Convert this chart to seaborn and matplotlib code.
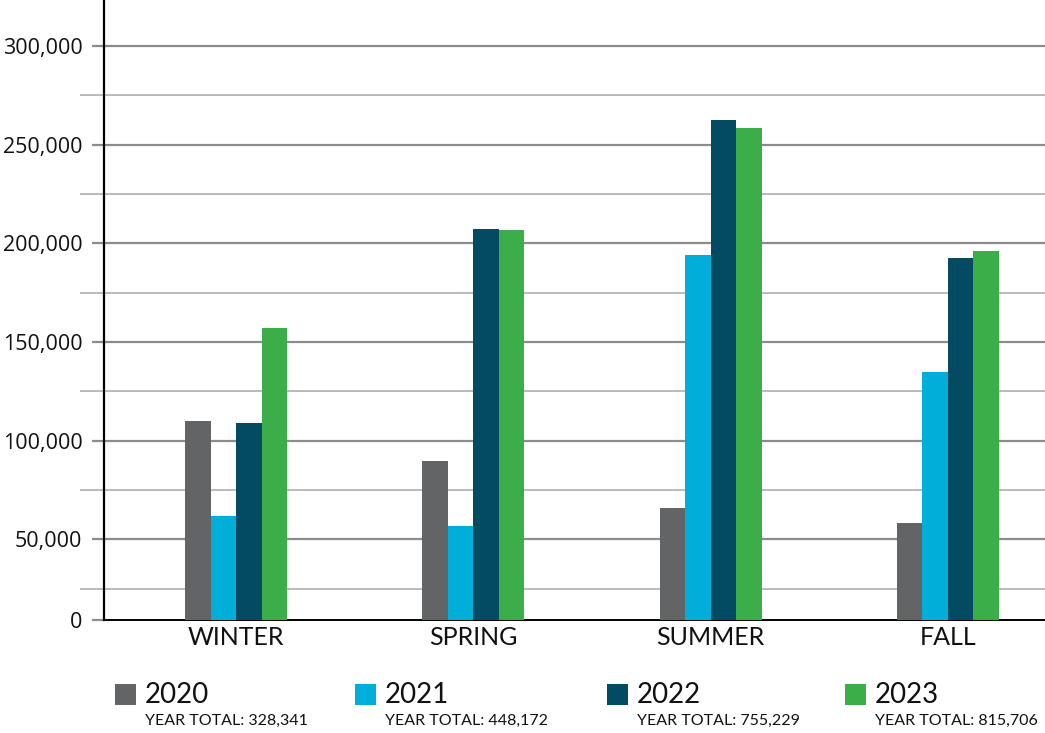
import matplotlib
matplotlib.use("Agg")
import matplotlib.pyplot as plt
from matplotlib.patches import Rectangle
import seaborn as sns
import pandas as pd

seasons = ["WINTER", "SPRING", "SUMMER", "FALL"]
years = ["2020", "2021", "2022", "2023"]
v2020 = [110000, 89850, 66030, 58120]
v2021 = [61980, 56760, 193950, 134960]
v2022 = [109110, 207400, 262670, 192730]
v2023 = [156950, 206600, 258620, 195970]
year_totals = ["328,341", "448,172", "755,229", "815,706"]
colors = ["#636466", "#00AEDA", "#024B63", "#3BAE4A"]

major_ticks = [50000, 100000, 150000, 200000, 250000, 300000]
minor_ticks = [25000, 75000, 125000, 175000, 225000, 275000]
y_bottom = 9200
y_top = 323300

rows = []
for yr, vals in zip(years, [v2020, v2021, v2022, v2023]):
    for s, v in zip(seasons, vals):
        rows.append({"season": s, "year": yr, "value": v})
df = pd.DataFrame(rows)

sns.set_theme(style="white")
plt.rcParams["font.family"] = ["DejaVu Sans"]

fig = plt.figure(figsize=(10.45, 7.33), dpi=100)
ax = fig.add_axes([104 / 1045, 1 - 620 / 733, 1 - 104 / 1045, 620 / 733])

sns.barplot(data=df, x="season", y="value", hue="year", order=seasons,
            hue_order=years, palette=colors, saturation=1, width=0.43,
            gap=0, ax=ax, legend=False, zorder=3, edgecolor="none")

ax.set_xlim(-0.557, 3.41)
ax.set_ylim(y_bottom, y_top)
ax.set_xlabel("")
ax.set_ylabel("")

ax.set_yticks([y_bottom] + major_ticks)
ax.set_yticklabels(["0"] + [f"{t:,}" for t in major_ticks], fontsize=15.5,
                   color="#111111", family="Open Sans")
ax.set_yticks(minor_ticks, minor=True)
ax.yaxis.grid(True, which="major", color="#8c8c8c", lw=1.6, zorder=0)
ax.yaxis.grid(True, which="minor", color="#a8a8a8", lw=1.1, zorder=0)
ax.set_axisbelow(True)
ax.tick_params(axis="y", which="major", length=8.5, width=1.6,
               color="#8c8c8c", pad=7, left=True)
ax.tick_params(axis="y", which="minor", length=17, width=1.1,
               color="#a8a8a8", left=True)
t0 = ax.yaxis.get_major_ticks()[0]
t0.tick1line.set_color("black")
t0.gridline.set_visible(False)

ax.tick_params(axis="x", length=0, pad=4)
for lab in ax.get_xticklabels():
    lab.set_fontfamily("Lato")
    lab.set_fontsize(18)
    lab.set_color("#111111")

for s in ["top", "right"]:
    ax.spines[s].set_visible(False)
ax.spines["left"].set_color("black")
ax.spines["left"].set_linewidth(1.6)
ax.spines["bottom"].set_color("black")
ax.spines["bottom"].set_linewidth(1.4)

sq_x = [115, 355, 607, 845]
for i, yr in enumerate(years):
    x0 = sq_x[i]
    fig.add_artist(Rectangle((x0 / 1045, 1 - 705 / 733), 21 / 1045, 21 / 733,
                             transform=fig.transFigure, color=colors[i],
                             lw=0))
    fig.text((x0 + 30) / 1045, 1 - 695 / 733, yr, fontsize=20,
             family="Lato", va="center", ha="left", color="#111111")
    fig.text((x0 + 30) / 1045, 1 - 721 / 733, "YEAR TOTAL: " + year_totals[i],
             fontsize=11.5, family="Lato", va="center", ha="left",
             color="#111111")

fig.savefig("out.png", dpi=100, facecolor="white")
